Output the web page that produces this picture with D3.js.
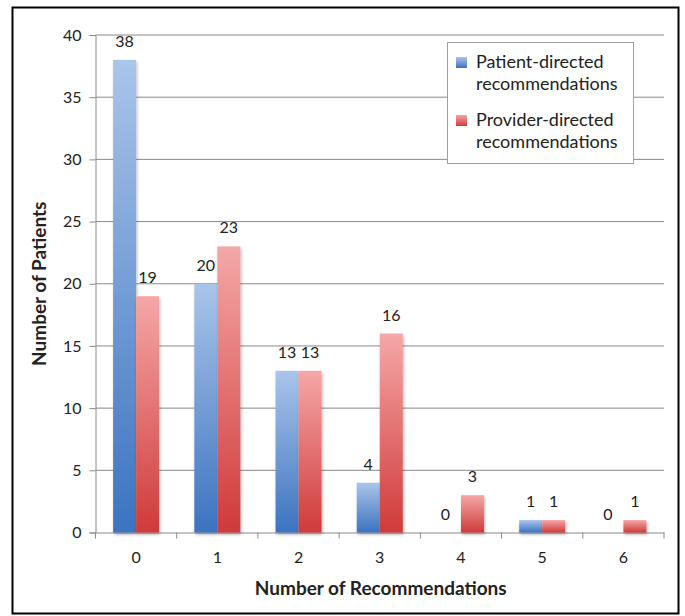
<!DOCTYPE html>
<html>
<head>
<meta charset="utf-8">
<script src="https://cdn.jsdelivr.net/npm/d3@7"></script>
<style>
  html, body { margin: 0; padding: 0; background: #fff; }
  svg { display: block; }
  text { font-family: Lato, "Open Sans", "Liberation Sans", sans-serif; fill: #222; }
</style>
</head>
<body>
<svg id="chart" width="685" height="616"></svg>
<script>
const categories = ["0", "1", "2", "3", "4", "5", "6"];
const seriesNames = ["Patient-directed recommendations", "Provider-directed recommendations"];
const patientValues = [38, 20, 13, 4, 0, 1, 0];
const providerValues = [19, 23, 13, 16, 3, 1, 1];
const yTicks = [0, 5, 10, 15, 20, 25, 30, 35, 40];
const xTitle = "Number of Recommendations";
const yTitle = "Number of Patients";

(function () {
const svg = d3.select("#chart");
const mLeft = 95.5, mRight = 664, mTop = 35, mBottom = 532.5;

// outer frame
svg.append("rect").attr("x", 12.5).attr("y", 7.5).attr("width", 666).attr("height", 606)
  .attr("fill", "#fff").attr("stroke", "#000").attr("stroke-width", 2);

const defs = svg.append("defs");
function grad(id, c1, c2) {
  const g = defs.append("linearGradient").attr("id", id).attr("x1", 0).attr("y1", 0).attr("x2", 0).attr("y2", 1);
  g.append("stop").attr("offset", "0%").attr("stop-color", c1);
  g.append("stop").attr("offset", "100%").attr("stop-color", c2);
}
grad("gBlue", "#a9c5ea", "#3c73c0");
grad("gRed", "#f5a7a7", "#d03a3a");
const f = defs.append("filter").attr("id", "shadow").attr("x", "-30%").attr("y", "-10%").attr("width", "160%").attr("height", "130%");
f.append("feDropShadow").attr("dx", 1).attr("dy", 2).attr("stdDeviation", 1.5).attr("flood-color", "#000").attr("flood-opacity", 0.3);

const x = d3.scaleBand().domain(categories).range([mLeft, mRight]).paddingInner(0).paddingOuter(0);
const y = d3.scaleLinear().domain([0, 40]).range([mBottom, mTop]);
const barW = 23;

// gridlines
svg.append("g").selectAll("line").data(yTicks.filter(d => d > 0)).join("line")
  .attr("x1", mLeft).attr("x2", mRight).attr("y1", d => y(d)).attr("y2", d => y(d))
  .attr("stroke", "#8a8a8a").attr("stroke-width", 1);

// y axis
const yAxis = svg.append("g").attr("transform", `translate(${mLeft},0)`)
  .call(d3.axisLeft(y).tickValues(yTicks).tickSize(6).tickPadding(8));
yAxis.select(".domain").attr("stroke", "#8a8a8a");
yAxis.selectAll(".tick line").attr("stroke", "#8a8a8a");
yAxis.selectAll("text").attr("font-size", 16).style("font-family", "Lato, 'Open Sans', sans-serif").attr("fill", "#222");

// x axis
const xAxis = svg.append("g").attr("transform", `translate(0,${mBottom})`)
  .call(d3.axisBottom(x).tickSize(0).tickPadding(19));
xAxis.select(".domain").attr("stroke", "#8a8a8a");
xAxis.selectAll("text").attr("font-size", 16).style("font-family", "Lato, 'Open Sans', sans-serif").attr("fill", "#222");
const bounds = categories.map(c => x(c)).concat([mRight]);
xAxis.selectAll(".bt").data(bounds).join("line").attr("class", "bt")
  .attr("x1", d => d).attr("x2", d => d).attr("y1", 0).attr("y2", 6).attr("stroke", "#8a8a8a");

// bars
const series = [
  { vals: patientValues, fill: "url(#gBlue)", off: -barW },
  { vals: providerValues, fill: "url(#gRed)", off: 0 }
];
series.forEach(s => {
  const g = svg.append("g").attr("filter", "url(#shadow)");
  g.selectAll("rect").data(categories.map((c, i) => ({ c, v: s.vals[i] })).filter(d => d.v > 0)).join("rect")
    .attr("x", d => x(d.c) + x.bandwidth() / 2 + s.off)
    .attr("y", d => y(d.v))
    .attr("width", barW)
    .attr("height", d => y(0) - y(d.v))
    .attr("fill", s.fill);
});
series.forEach(s => {
  svg.append("g").selectAll("text").data(categories.map((c, i) => ({ c, v: s.vals[i] }))).join("text")
    .attr("x", d => x(d.c) + x.bandwidth() / 2 + s.off + barW / 2 + (d.v === 0 ? -4 : 0))
    .attr("y", d => y(d.v) - 13)
    .attr("text-anchor", "middle")
    .attr("font-size", 16)
    .text(d => d.v);
});

// axis titles
svg.append("text").attr("x", (mLeft + mRight) / 2 + 1).attr("y", 595).attr("text-anchor", "middle")
  .attr("font-size", 19).attr("font-weight", "bold").text(xTitle);
svg.append("text").attr("transform", `translate(46,${(mTop + mBottom) / 2}) rotate(-90)`)
  .attr("text-anchor", "middle").attr("font-size", 19).attr("font-weight", "bold").text(yTitle);

// legend
const lg = svg.append("g");
lg.append("rect").attr("x", 447.5).attr("y", 42.5).attr("width", 186).attr("height", 121)
  .attr("fill", "#fff").attr("stroke", "#a0a0a0");
const legendFills = ["url(#gBlue)", "url(#gRed)"];
seriesNames.forEach((name, i) => {
  const yy = 57 + i * 58;
  lg.append("rect").attr("x", 456).attr("y", yy).attr("width", 11).attr("height", 11).attr("fill", legendFills[i]);
  const words = name.split(" ");
  lg.append("text").attr("x", 476).attr("y", yy + 11).attr("font-size", 18).text(words[0]);
  lg.append("text").attr("x", 476).attr("y", yy + 33).attr("font-size", 18).text(words[1]);
});
})();
</script>
</body>
</html>
